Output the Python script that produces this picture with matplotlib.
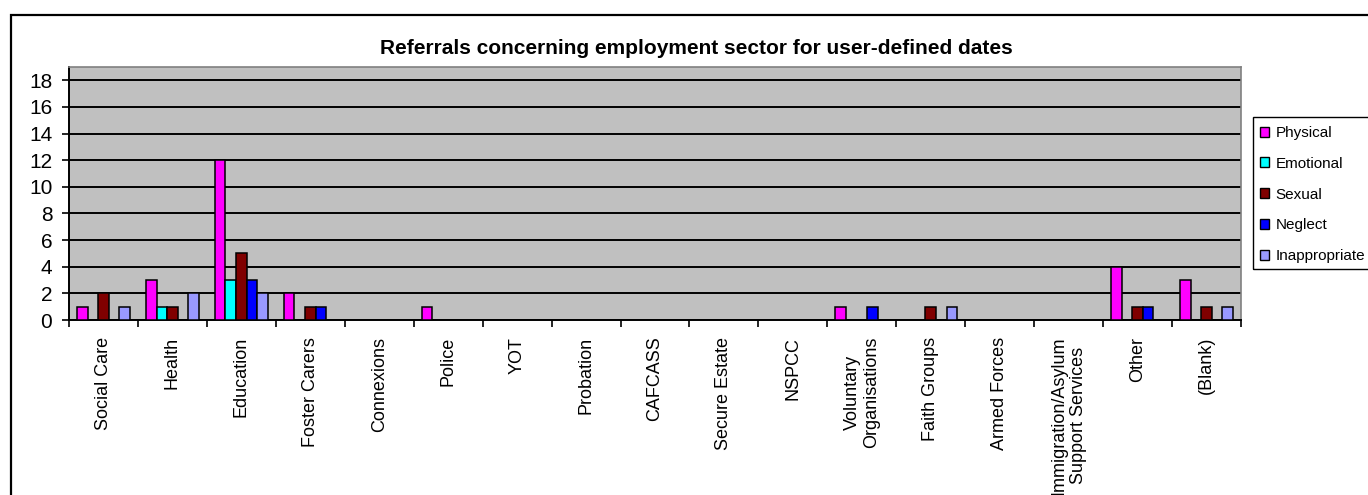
import numpy as np
import matplotlib
matplotlib.use("Agg")
import matplotlib.pyplot as plt
from matplotlib.patches import Patch, Rectangle

plt.rcParams["font.family"] = ["Liberation Sans", "DejaVu Sans"]

sectors = [
    "Social Care", "Health", "Education", "Foster Carers", "Connexions",
    "Police", "YOT", "Probation", "CAFCASS", "Secure Estate", "NSPCC",
    "Voluntary\nOrganisations", "Faith Groups", "Armed Forces",
    "Immigration/Asylum\nSupport Services", "Other", "(Blank)",
]
physical      = [1, 3, 12, 2, 0, 1, 0, 0, 0, 0, 0, 1, 0, 0, 0, 4, 3]
emotional     = [0, 1, 3, 0, 0, 0, 0, 0, 0, 0, 0, 0, 0, 0, 0, 0, 0]
sexual        = [2, 1, 5, 1, 0, 0, 0, 0, 0, 0, 0, 0, 1, 0, 0, 1, 1]
neglect       = [0, 0, 3, 1, 0, 0, 0, 0, 0, 0, 0, 1, 0, 0, 0, 1, 0]
inappropriate = [1, 2, 2, 0, 0, 0, 0, 0, 0, 0, 0, 0, 1, 0, 0, 0, 1]

series = [
    ("Physical", physical, "#FF00FF"),
    ("Emotional", emotional, "#00FFFF"),
    ("Sexual", sexual, "#800000"),
    ("Neglect", neglect, "#0000FF"),
    ("Inappropriate", inappropriate, "#9999FF"),
]

W, H = 1368, 495
fig = plt.figure(figsize=(W / 100, H / 100), dpi=100)

# plot area in pixel terms
left, right, top, bottom = 69, 1241, 67, 320
ax = fig.add_axes([left / W, 1 - bottom / H, (right - left) / W, (bottom - top) / H])
ax.set_facecolor("#C0C0C0")

n = len(sectors)
bw = 1 / 6.5
x = np.arange(n)
for k, (name, vals, col) in enumerate(series):
    ax.bar(x + 0.5 + (k - 2) * bw, vals, width=bw, color=col,
           edgecolor="black", linewidth=1.1, zorder=3, label=name)

ax.set_xlim(0, n)
ax.set_ylim(0, 19)
ax.set_yticks(np.arange(0, 19, 2))
ax.yaxis.grid(True, color="black", linewidth=1.4, zorder=1)
ax.set_axisbelow(True)

ax.set_xticks(x + 0.5)
ax.set_xticklabels(sectors, rotation=90, va="top", ha="center",
                   multialignment="center", fontsize=13)
ax.set_xticks(np.arange(0, n + 1), minor=True)
ax.tick_params(axis="x", which="major", length=0, pad=12)
ax.tick_params(axis="x", which="minor", length=5, width=1.2, direction="out")
ax.tick_params(axis="y", labelsize=15, length=5, width=1.2, pad=7)

for s in ("left", "bottom"):
    ax.spines[s].set_color("black")
    ax.spines[s].set_linewidth(1.4)
for s in ("top", "right"):
    ax.spines[s].set_color("#808080")
    ax.spines[s].set_linewidth(1.2)

fig.text(696 / W, 1 - 48 / H,
         "Referrals concerning employment sector for user-defined dates",
         ha="center", va="center", fontsize=15, fontweight="bold")

# outer chart frame, running off the right and bottom edges
fig.patches.append(Rectangle((11 / W, -0.2), 1.2, 1 - 15 / H + 0.2,
                             transform=fig.transFigure, fill=False,
                             edgecolor="black", linewidth=1.6))

# legend box
fig.patches.append(Rectangle((1253 / W, 1 - 269 / H), 0.2, 152 / H,
                             transform=fig.transFigure, fill=False,
                             edgecolor="black", linewidth=1.0))
handles = [Patch(facecolor=c, edgecolor="black", linewidth=1.0, label=nm)
           for nm, _, c in series]
fig.legend(handles=handles, loc="upper left",
           bbox_to_anchor=(1260 / W, 1 - 126 / H), frameon=False,
           fontsize=11, handlelength=0.62, handleheight=0.62,
           handletextpad=0.4, labelspacing=1.1, borderpad=0,
           borderaxespad=0)

fig.savefig("out.png", dpi=100)
